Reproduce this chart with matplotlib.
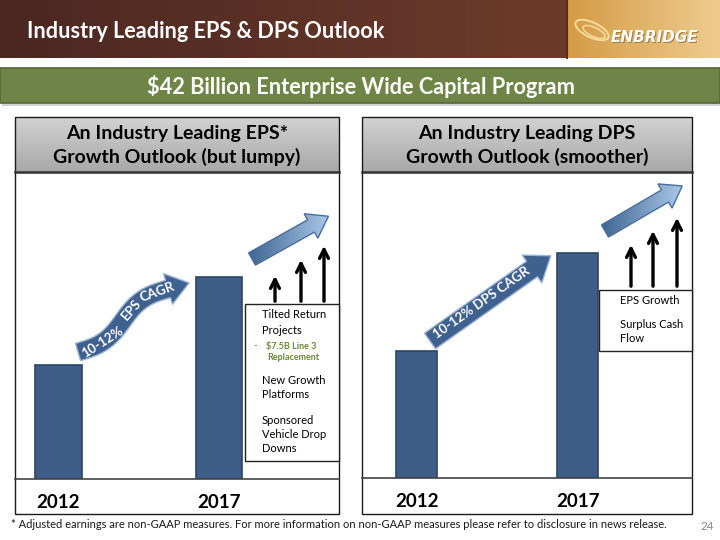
import numpy as np
import matplotlib.pyplot as plt
from matplotlib.patches import Rectangle, Polygon, Ellipse
from matplotlib.colors import LinearSegmentedColormap

plt.rcParams['font.family'] = ['Lato', 'DejaVu Sans']

# ---- data (index, 2012 = 1.00) ----
years = ['2012', '2017']
eps_index = [1.00, 1.77]
dps_index = [1.00, 1.77]

slide_title = 'Industry Leading EPS & DPS Outlook'
banner = '$42 Billion Enterprise Wide Capital Program'
eps_head = ['An Industry Leading EPS*', 'Growth Outlook (but lumpy)']
dps_head = ['An Industry Leading DPS', 'Growth Outlook (smoother)']
eps_cagr = ['10-12%', 'EPS', 'CAGR']
dps_cagr = '10-12% DPS CAGR'
eps_drivers = ['Tilted Return', 'Projects', None, None, 'New Growth', 'Platforms',
               'Sponsored', 'Vehicle Drop', 'Downs']
eps_sub = ['$7.5B Line 3', 'Replacement']
dps_drivers = ['EPS Growth', 'Surplus Cash', 'Flow']
footnote = ('* Adjusted earnings are non-GAAP measures. For more information on '
            'non-GAAP measures please refer to disclosure in news release.')
page_no = '24'

BAR = '#3d5d87'
BAR_EDGE = '#2c4566'


def hgrad(ax, x0, x1, y0, y1, c0, c1, vertical=False, clip=None, z=0):
    cmap = LinearSegmentedColormap.from_list('g', [c0, c1])
    g = np.linspace(0, 1, 256)
    img = g[:, None] if vertical else g[None, :]
    im = ax.imshow(img, cmap=cmap, extent=[x0, x1, y1, y0], aspect='auto',
                   zorder=z, interpolation='bicubic')
    if clip is not None:
        im.set_clip_path(clip)
    return im


def band_poly(pts, w, hl, hw):
    # polygon of an arrow following a centerline (pixel coords)
    pts = np.asarray(pts, float)
    d = np.gradient(pts, axis=0)
    d /= np.linalg.norm(d, axis=1)[:, None]
    n = np.stack([-d[:, 1], d[:, 0]], axis=1)
    left = pts + n * w / 2
    right = pts - n * w / 2
    end, de, ne = pts[-1], d[-1], n[-1]
    tip = end + de * hl
    head = [end + ne * hw / 2, tip, end - ne * hw / 2]
    return np.vstack([left, head, right[::-1]])


fig = plt.figure(figsize=(7.2, 5.4), dpi=100)
fig.patch.set_facecolor('white')

bg = fig.add_axes([0, 0, 1, 1], zorder=0)
bg.set_xlim(0, 720)
bg.set_ylim(540, 0)
bg.axis('off')

# header band
hgrad(bg, 0, 567, 0, 58, '#4b2721', '#6d3b2b')
hgrad(bg, 567, 720, 0, 58, '#d49b46', '#efcc8e')
bg.plot([567, 567], [0, 58], color='#5a2e22', lw=1.5, zorder=1)
bg.text(27, 31, slide_title, color='white', fontsize=15.6, fontweight='bold',
        va='center', ha='left', zorder=2)
bg.add_patch(Ellipse((592, 30), 36, 15, angle=25, fill=False, ec='#f6dc9c', lw=1.4, zorder=2))
bg.add_patch(Ellipse((594, 32), 24, 9, angle=25, fill=False, ec='#f6dc9c', lw=1.1, zorder=2))
for dx, col, z in [(1.5, '#a07e42', 2), (0, 'white', 3)]:
    bg.text(654 + dx, 37 + dx, 'ENBRIDGE', color=col, fontsize=11, fontweight='bold',
            fontstyle='italic', family='DejaVu Sans', ha='center', va='center', zorder=z)

# green banner
bg.add_patch(Rectangle((2, 70), 718, 36, fc='#d2d2d2', ec='none', zorder=1))
bg.add_patch(Rectangle((0, 68), 720, 35, fc='#6f8447', ec='#56673a', lw=1.2, zorder=2))
bg.text(361, 86, banner, color='white', fontsize=15.7, fontweight='bold',
        ha='center', va='center', zorder=3)

# panels
panels = [(15, 339, eps_head), (362, 692, dps_head)]
for x0, x1, head in panels:
    bg.add_patch(Rectangle((x0, 172), x1 - x0, 342, fc='white', ec='none', zorder=1))
    hgrad(bg, x0, x1, 117, 172, '#d2d2d2', '#a8a8a8', vertical=True, z=1)
    bg.add_patch(Rectangle((x0, 117), x1 - x0, 397, fill=False, ec='#1a1a1a', lw=1.0, zorder=3))
    bg.plot([x0, x1], [172, 172], color='#333333', lw=1.8, zorder=3)
    xc = (x0 + x1) / 2
    bg.text(xc, 133, head[0], fontsize=14, fontweight='bold', ha='center', va='center', zorder=3)
    bg.text(xc, 157, head[1], fontsize=14, fontweight='bold', ha='center', va='center', zorder=3)

bg.text(11, 525, footnote, fontsize=8.0, color='#1a1a1a', ha='left', va='center')
bg.text(707, 526, page_no, fontsize=8.5, color='#8a8a8a', ha='center', va='center')

# bar charts
axL = fig.add_axes([15 / 720, 61 / 540, 324 / 720, 307 / 540], zorder=1)
axR = fig.add_axes([362 / 720, 62 / 540, 330 / 720, 306 / 540], zorder=1)
setups = [(axL, eps_index, (-0.271, 1.748), 2.69, 0.29),
          (axR, dps_index, (-0.339, 1.711), 2.41, 0.25)]
for ax, vals, xl, ytop, bw in setups:
    ax.patch.set_alpha(0)
    ax.bar(range(len(years)), vals, width=bw, color=BAR, edgecolor=BAR_EDGE, linewidth=1.2)
    ax.set_xlim(*xl)
    ax.set_ylim(0, ytop)
    ax.set_xticks(range(len(years)))
    ax.set_xticklabels(years, fontsize=13.5, fontweight='bold')
    ax.tick_params(axis='x', length=0, pad=11)
    ax.set_yticks([])
    for s in ['top', 'left', 'right']:
        ax.spines[s].set_visible(False)
    ax.spines['bottom'].set_color('#444444')
    ax.spines['bottom'].set_linewidth(1.2)

# foreground annotations
fg = fig.add_axes([0, 0, 1, 1], zorder=2)
fg.set_xlim(0, 720)
fg.set_ylim(540, 0)
fg.axis('off')
fg.patch.set_alpha(0)

# wavy CAGR arrow (left)
t = np.linspace(0, 1, 40)
p0, p1 = np.array([78, 352]), np.array([168, 289])
dvec = (p1 - p0) / np.linalg.norm(p1 - p0)
nvec = np.array([-dvec[1], dvec[0]])
center = p0[None, :] + t[:, None] * (p1 - p0)[None, :] + (6 * np.sin(2 * np.pi * t))[:, None] * nvec[None, :]
poly = Polygon(band_poly(center, 18, 22, 32), closed=True, fc='#3f6190', ec='#9db4d2', lw=1.0, zorder=3)
fg.add_patch(poly)
for word, tt in zip(eps_cagr, [0.25, 0.62, 0.92]):
    i = int(tt * (len(t) - 1))
    dx, dy = center[min(i + 2, 39)] - center[max(i - 2, 0)]
    ang = np.degrees(np.arctan2(-dy, dx))
    fg.text(center[i, 0], center[i, 1], word, color='white', fontsize=9.5, fontweight='bold',
            rotation=ang, rotation_mode='anchor', ha='center', va='center', zorder=4)

# straight CAGR arrow (right)
line = np.array([[430, 341], [532, 269]])
poly = Polygon(band_poly(np.linspace(line[0], line[1], 10), 19, 23, 34), closed=True,
               fc='#3f6190', ec='#9db4d2', lw=1.0, zorder=3)
fg.add_patch(poly)
ang = np.degrees(np.arctan2(-(line[1, 1] - line[0, 1]), line[1, 0] - line[0, 0]))
fg.text(482, 303, dps_cagr, color='white', fontsize=9.5, fontweight='bold',
        rotation=ang, rotation_mode='anchor', ha='center', va='center', zorder=4)

# light blue outlook arrows
for a, b in [((252, 259), (311, 226)), ((605, 231), (665, 196))]:
    pts = np.linspace(a, b, 10)
    verts = band_poly(pts, 14, 20, 28)
    patch = Polygon(verts, closed=True, fc='none', ec='#4a6f9c', lw=1.0, zorder=4)
    fg.add_patch(patch)
    hgrad(fg, verts[:, 0].min(), verts[:, 0].max(), verts[:, 1].min(), verts[:, 1].max(),
          '#3f6593', '#a9c8e8', clip=patch, z=3)

# black driver arrows
for xs, tops, base in [([275, 301, 324], [273, 257, 243], 304),
                       ([631, 653, 677], [242, 228, 215], 289)]:
    for x, top in zip(xs, tops):
        fg.annotate('', xy=(x, top), xytext=(x, base),
                    arrowprops=dict(arrowstyle='->', lw=2.4, color='black', mutation_scale=16),
                    zorder=3)

# driver boxes
fg.add_patch(Rectangle((245, 304), 94, 157, fc='white', ec='#222222', lw=1.0, zorder=5))
left_rows = [315, 330, None, None, 381, 395, 420, 434, 449]
for txt, y in zip(eps_drivers, left_rows):
    if txt:
        fg.text(262, y, txt, fontsize=8, ha='left', va='center', zorder=6)
fg.text(253, 346, '-', fontsize=7, color='#6b8a3a', ha='left', va='center', zorder=6)
fg.text(266, 346, eps_sub[0], fontsize=6.5, fontweight='bold', color='#6b8a3a',
        ha='left', va='center', zorder=6)
fg.text(267, 358, eps_sub[1], fontsize=6.5, fontweight='bold', color='#6b8a3a',
        ha='left', va='center', zorder=6)

fg.add_patch(Rectangle((599, 290), 93, 61, fc='white', ec='#222222', lw=1.0, zorder=5))
for txt, y in zip(dps_drivers, [301, 325, 339]):
    fg.text(620, y, txt, fontsize=8, ha='left', va='center', zorder=6)

fig.savefig('out.png', dpi=100)
